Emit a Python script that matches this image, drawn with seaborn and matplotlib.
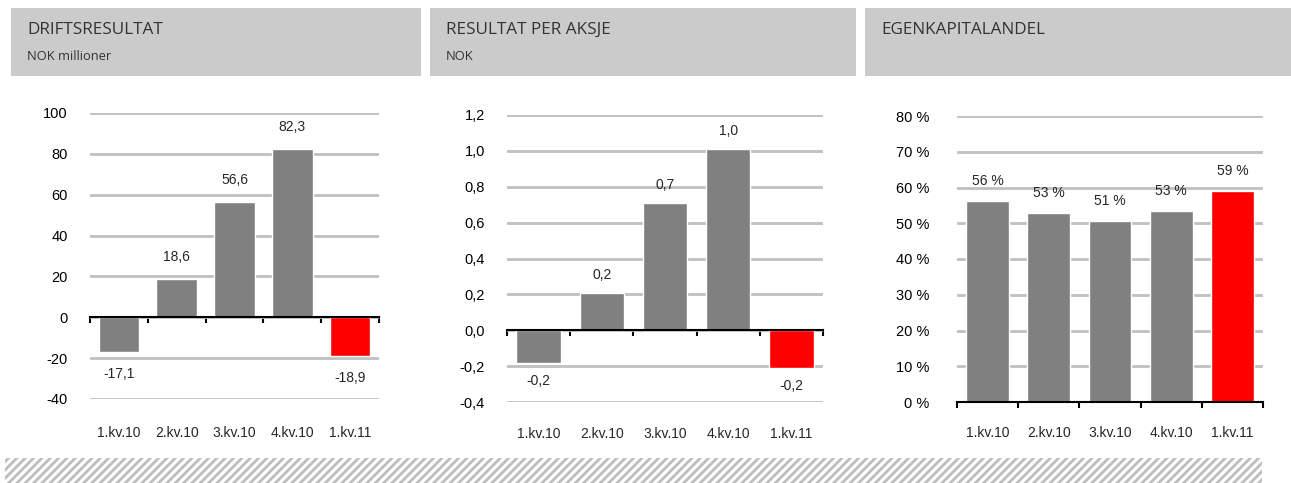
import matplotlib
matplotlib.use("Agg")
import matplotlib.pyplot as plt
import matplotlib.patches as mpatches
import matplotlib.ticker as mticker
import seaborn as sns

kvartaler = ["1.kv.10", "2.kv.10", "3.kv.10", "4.kv.10", "1.kv.11"]
farger = ["#808080", "#808080", "#808080", "#808080", "#ff0000"]

drift = [-17.1, 18.6, 56.6, 82.3, -18.9]
eps = [-0.18, 0.21, 0.71, 1.01, -0.21]
egenkap = [56.2, 52.8, 50.6, 53.4, 59.0]

titler = ["DRIFTSRESULTAT", "RESULTAT PER AKSJE", "EGENKAPITALANDEL"]
undertitler = ["NOK millioner", "NOK", ""]

sns.set_style("white")
plt.rcParams["font.family"] = ["Liberation Sans", "DejaVu Sans"]
plt.rcParams["hatch.linewidth"] = 2.0

W, H = 1291, 483
fig = plt.figure(figsize=(W / 100, H / 100), dpi=100)


def px_axes(left, top, right, bottom):
    return fig.add_axes([left / W, 1 - bottom / H, (right - left) / W, (bottom - top) / H])


# grå overskriftsbokser
bg = fig.add_axes([0, 0, 1, 1])
bg.set_xlim(0, W)
bg.set_ylim(H, 0)
bg.axis("off")
bokser = [(11, 421), (430, 856), (865, 1291)]
for (x0, x1), t, u in zip(bokser, titler, undertitler):
    bg.add_patch(mpatches.Rectangle((x0, 8), x1 - x0, 68, facecolor="#cbcbcb", lw=0))
    bg.text(x0 + 16, 30, t, fontsize=12.3, family=["Open Sans", "DejaVu Sans"],
            color="#333333", va="center")
    if u:
        bg.text(x0 + 16, 57, u, fontsize=9.3, family=["Open Sans", "DejaVu Sans"],
                color="#333333", va="center")
# skravert bånd nederst
bg.add_patch(mpatches.Rectangle((5, 458), 1257, 25, facecolor="white",
                                edgecolor="#bdbdbd", hatch="////", lw=0))


def tegn(ax, verdier, ylim, step, fmt, etiketter, offset, pad, ypos):
    sns.barplot(x=kvartaler, y=verdier, hue=kvartaler, palette=farger,
                legend=False, width=0.7, saturation=1, ax=ax, zorder=3)
    ax.set_ylim(*ylim)
    ax.set_xlim(-0.5, len(kvartaler) - 0.5)
    ax.yaxis.set_major_locator(mticker.MultipleLocator(step))
    ax.yaxis.set_major_formatter(mticker.FuncFormatter(fmt))
    ax.grid(axis="y", color="#c0c0c0", lw=2, zorder=0)
    ax.set_axisbelow(True)
    for s in ["top", "right", "left"]:
        ax.spines[s].set_visible(False)
    ax.spines["bottom"].set_position(("data", 0))
    ax.spines["bottom"].set_color("black")
    ax.spines["bottom"].set_linewidth(1.5)
    ax.spines["bottom"].set_zorder(4)
    ax.set_xticks([i - 0.5 for i in range(len(kvartaler) + 1)])
    ax.set_xticklabels([])
    ax.tick_params(axis="x", direction="out", length=4, width=1.5, color="black", bottom=True)
    ax.tick_params(axis="y", length=0, labelsize=10.5, pad=pad, labelcolor="black")
    ax.set_xlabel("")
    ax.set_ylabel("")
    for i, k in enumerate(kvartaler):
        ax.text(i, ypos, k, transform=ax.get_xaxis_transform(), ha="center",
                va="center", fontsize=10)
    for i, (v, e) in enumerate(zip(verdier, etiketter)):
        ax.annotate(e, (i, v), xytext=(0, offset if v >= 0 else -offset),
                    textcoords="offset pixels", ha="center", va="center", fontsize=10)


ax1 = px_axes(90, 113, 379, 399)
tegn(ax1, drift, (-40, 100), 20, lambda v, p: f"{v:.0f}",
     [f"{v:.1f}".replace(".", ",") for v in drift], 22, 16, -0.12)

ax2 = px_axes(507, 115, 823, 402)
tegn(ax2, eps, (-0.4, 1.2), 0.2, lambda v, p: f"{v:.1f}".replace(".", ","),
     [f"{v:.1f}".replace(".", ",") for v in eps], 18, 16, -0.11)

ax3 = px_axes(957, 116, 1263, 402)
tegn(ax3, egenkap, (0, 80), 10, lambda v, p: f"{v:.0f} %",
     [f"{v:.0f} %" for v in egenkap], 20, 20, -0.11)

fig.savefig("out.png", dpi=100)
